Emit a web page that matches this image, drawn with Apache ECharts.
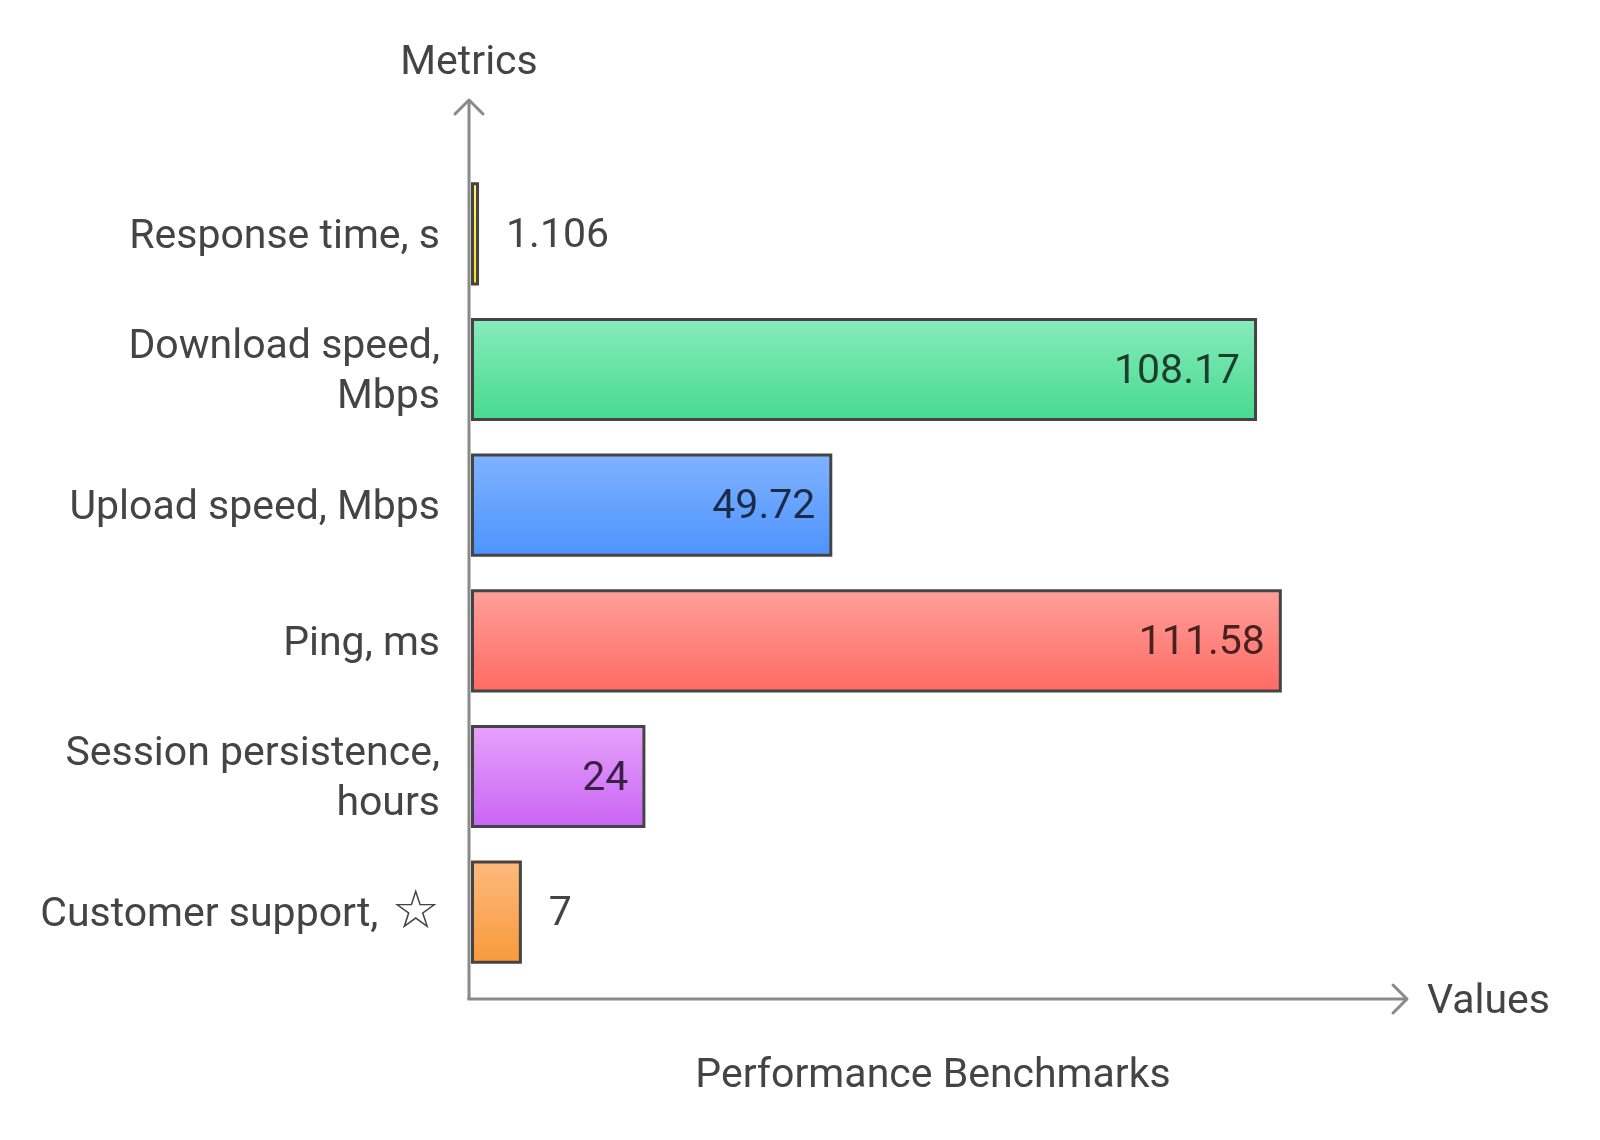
<!DOCTYPE html>
<html>
<head>
<meta charset="utf-8">
<script src="https://cdn.jsdelivr.net/npm/echarts@6/dist/echarts.min.js"></script>
<style>
html,body{margin:0;padding:0;background:#fff;}
#chart{width:1600px;height:1140px;}
</style>
</head>
<body>
<div id="chart"></div>
<script>
const categories = ["Response time, s", "Download speed,\nMbps", "Upload speed, Mbps", "Ping, ms", "Session persistence,\nhours", "Customer support, {star|\u2606}"];
const values = [1.106, 108.17, 49.72, 111.58, 24, 7];
const valueLabels = ["1.106", "108.17", "49.72", "111.58", "24", "7"];
const insideLabel = [false, true, true, true, true, false];

const gradTop = ["#fff27a", "#88ebbd", "#80b3ff", "#ffa09a", "#e6a3fa", "#fdba7e"];
const gradBottom = ["#ffe010", "#46da8e", "#4d93ff", "#ff6a64", "#c964f5", "#f8993a"];
const darkText = ["#444444", "#1e3d2d", "#1c2c48", "#4a2020", "#3a1f46", "#444444"];

const FONT = "Roboto";
const TXT = "#444444";
const AX = "#8a8a8a";
const FS = 41;

const chart = echarts.init(document.getElementById('chart'));

const seriesData = values.map((v, i) => ({
  value: v,
  itemStyle: {
    color: new echarts.graphic.LinearGradient(0, 0, 0, 1, [
      {offset: 0, color: gradTop[i]},
      {offset: 1, color: gradBottom[i]}
    ]),
    borderColor: "#444444",
    borderWidth: 3
  },
  label: {
    show: true,
    position: insideLabel[i] ? 'insideRight' : 'right',
    distance: insideLabel[i] ? 17 : 27,
    formatter: valueLabels[i],
    color: darkText[i],
    fontFamily: FONT,
    fontSize: FS,
    offset: [0, 3]
  }
}));

const ax = 469, ox = 471, oy = 999;
const option = {
  animation: false,
  backgroundColor: "#ffffff",
  grid: {left: ox, right: 39, top: 166, bottom: 160, containLabel: false},
  xAxis: {
    type: 'value', min: 0, max: 150,
    axisLine: {show: false}, axisTick: {show: false},
    axisLabel: {show: false}, splitLine: {show: false}
  },
  yAxis: {
    type: 'category', data: categories, inverse: true,
    axisLine: {show: false}, axisTick: {show: false}, splitLine: {show: false},
    axisLabel: {
      margin: 31, color: TXT, fontFamily: FONT, fontSize: FS,
      lineHeight: 50, align: 'right', padding: [7, 0, 0, 0],
      rich: {
        star: {fontFamily: 'DejaVu Sans', fontSize: 54, color: TXT, lineHeight: 50, padding: [0, 0, 4, 3]}
      }
    }
  },
  series: [{
    type: 'bar',
    data: seriesData,
    barCategoryGap: '24%'
  }],
  graphic: [
    {type: 'line', shape: {x1: ax, y1: oy + 1, x2: ax, y2: 100}, style: {stroke: AX, lineWidth: 3}, z: 100},
    {type: 'polyline', shape: {points: [[ax - 14, 114], [ax, 100], [ax + 14, 114]]}, style: {stroke: AX, lineWidth: 3, fill: null, lineCap: 'round', lineJoin: 'round'}, z: 100},
    {type: 'line', shape: {x1: ax - 1.5, y1: oy, x2: 1407, y2: oy}, style: {stroke: AX, lineWidth: 3}, z: 100},
    {type: 'polyline', shape: {points: [[1393, oy - 14], [1407, oy], [1393, oy + 14]]}, style: {stroke: AX, lineWidth: 3, fill: null, lineCap: 'round', lineJoin: 'round'}, z: 100},
    {type: 'text', x: ax, y: 64, style: {text: 'Metrics', fill: TXT, font: FS + 'px Roboto', align: 'center', verticalAlign: 'middle'}},
    {type: 'text', x: 1427, y: 1003, style: {text: 'Values', fill: TXT, font: FS + 'px Roboto', align: 'left', verticalAlign: 'middle'}},
    {type: 'text', x: 933, y: 1077, style: {text: 'Performance Benchmarks', fill: TXT, font: FS + 'px Roboto', align: 'center', verticalAlign: 'middle'}}
  ]
};
chart.setOption(option);
</script>
</body>
</html>
